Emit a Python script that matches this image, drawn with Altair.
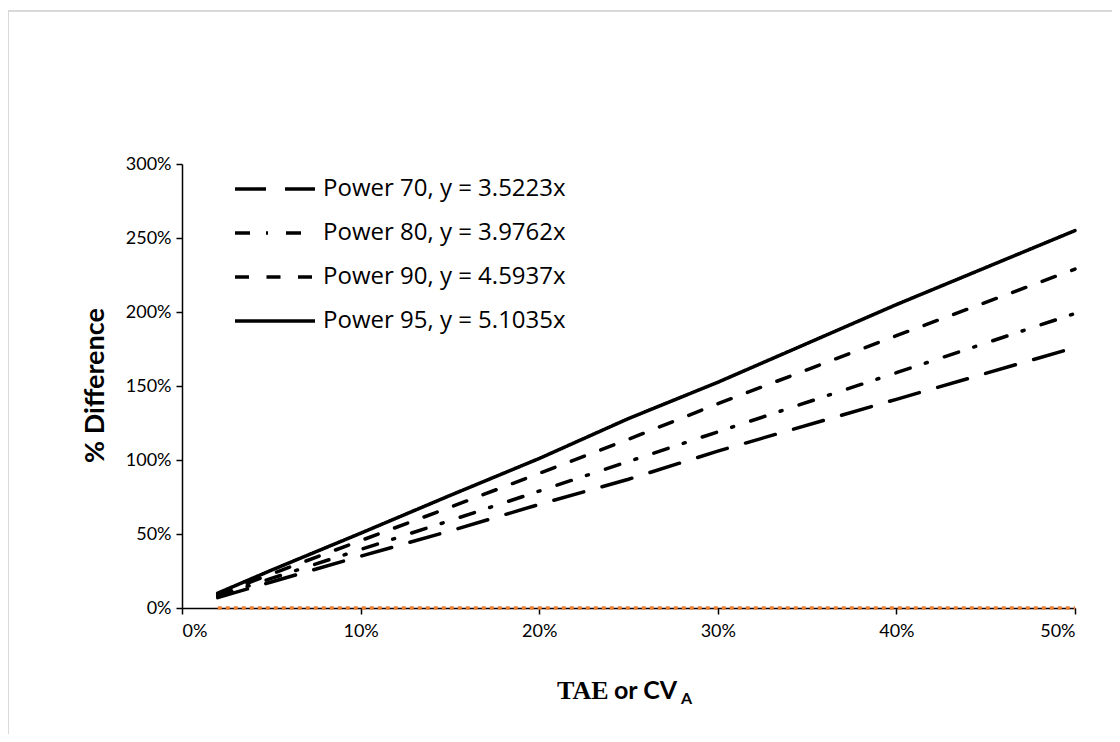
import altair as alt
import pandas as pd

# ---- data ----
x_vals = [0.02, 0.05, 0.10, 0.15, 0.20, 0.25, 0.30, 0.40, 0.50]
power70 = [0.07, 0.176, 0.35, 0.52, 0.70, 0.87, 1.06, 1.41, 1.76]
power80 = [0.08, 0.20, 0.395, 0.59, 0.79, 0.99, 1.19, 1.59, 1.99]
power90 = [0.09, 0.23, 0.455, 0.68, 0.91, 1.14, 1.38, 1.84, 2.29]
power95 = [0.10, 0.255, 0.505, 0.76, 1.01, 1.28, 1.525, 2.05, 2.55]
zero_line = [0, 0, 0, 0, 0, 0, 0, 0, 0]
series_names = [
    "Power 70, y = 3.5223x",
    "Power 80, y = 3.9762x",
    "Power 90, y = 4.5937x",
    "Power 95, y = 5.1035x",
]
x_ticks = [0, 0.1, 0.2, 0.3, 0.4, 0.5]
y_ticks = [0, 0.5, 1.0, 1.5, 2.0, 2.5, 3.0]

rows = []
for name, vals in zip(series_names, [power70, power80, power90, power95]):
    for x, y in zip(x_vals, vals):
        rows.append({"x": x, "y": y, "series": name})
df = pd.DataFrame(rows)
zdf = pd.DataFrame({"x": x_vals, "y": zero_line})

W, H = 893, 444
FONT = "Lato"

x_enc = alt.X("x:Q", scale=alt.Scale(domain=[0, 0.5], nice=False),
              axis=alt.Axis(values=x_ticks, format=".0%", title=None,
                            labelPadding=8))
y_enc = alt.Y("y:Q", scale=alt.Scale(domain=[0, 3], nice=False),
              axis=alt.Axis(values=y_ticks, format=".0%", title="% Difference",
                            titleAngle=-90, titleX=-87, titleY=221,
                            titleAlign="center", titleBaseline="middle",
                            titleFontSize=27, titleFontWeight="bold",
                            labelPadding=5))

lines = alt.Chart(df).mark_line(color="black", strokeWidth=3.5, strokeCap="round").encode(
    x=x_enc,
    y=y_enc,
    strokeDash=alt.StrokeDash(
        "series:N",
        scale=alt.Scale(domain=series_names,
                        range=[[31, 19], [15, 16, 2, 18], [14, 17.5], [1, 0]]),
        legend=alt.Legend(
            title=None, orient="none", legendX=71, legendY=3,
            symbolType="M-2,0H2", symbolSize=1600, symbolStrokeWidth=3.5,
            symbolStrokeColor="black", labelFontSize=24, labelFont="Open Sans",
            labelColor="black", labelOffset=26, rowPadding=10, labelLimit=400,
        ),
    ),
)

zero = alt.Chart(zdf).mark_line(color="#ED7D31", strokeWidth=3.5, strokeDash=[4, 4]).encode(
    x=alt.X("x:Q"), y=alt.Y("y:Q")
)

title_base = alt.Chart(pd.DataFrame({"t": ["TAE"]}))
t1 = title_base.mark_text(font="Liberation Serif", fontWeight="bold", fontSize=26,
                          align="left", baseline="alphabetic", color="black").encode(
    x=alt.value(375), y=alt.value(535), text=alt.value("TAE"))
t2 = title_base.mark_text(font=FONT, fontWeight="bold", fontSize=25,
                          align="left", baseline="alphabetic", color="black").encode(
    x=alt.value(432), y=alt.value(535), text=alt.value("or CV"))
t3 = title_base.mark_text(font=FONT, fontWeight="bold", fontSize=16,
                          align="left", baseline="alphabetic", color="black").encode(
    x=alt.value(499), y=alt.value(540), text=alt.value("A"))

border_top = title_base.mark_rule(color="#d9d9d9", strokeWidth=2).encode(
    x=alt.value(-174), x2=alt.value(W + 40), y=alt.value(-153))
border_left = title_base.mark_rule(color="#d9d9d9", strokeWidth=2).encode(
    x=alt.value(-174), y=alt.value(-153), y2=alt.value(H + 130))

chart = alt.layer(border_top, border_left, lines, zero, t1, t2, t3).properties(
    width=W, height=H,
    background="white",
    autosize=alt.AutoSizeParams(type="none"),
    padding={"left": 174, "top": 156, "right": 37, "bottom": 126},
).configure_view(stroke=None).configure_axis(
    grid=False, domainColor="black", domainWidth=1.5, tickColor="black",
    tickWidth=1.5, tickSize=6, labelFont=FONT, labelFontSize=18,
    labelColor="black", titleFont=FONT, titleColor="black",
)

chart.save("out.html", embed_options={"renderer": "svg", "actions": False})
